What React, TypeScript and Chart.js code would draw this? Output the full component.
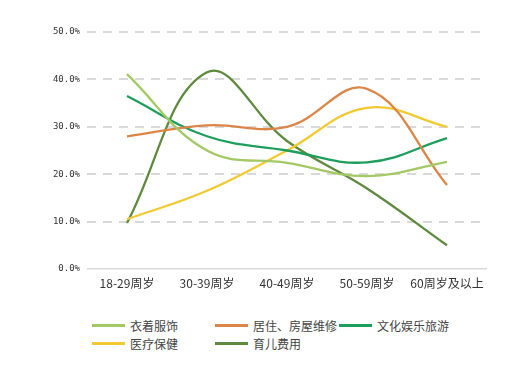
import React, { useEffect, useRef } from "react";
import { Chart, registerables } from "chart.js";

Chart.register(...registerables);

const categories = ["18-29周岁", "30-39周岁", "40-49周岁", "50-59周岁", "60周岁及以上"];
const seriesNames = ["衣着服饰", "居住、房屋维修", "文化娱乐旅游", "医疗保健", "育儿费用"];
const clothing = [41.1, 25.0, 22.4, 19.6, 22.6];
const housing = [28.0, 30.3, 30.0, 38.0, 17.7];
const culture = [36.5, 28.0, 25.0, 22.5, 27.6];
const medical = [10.5, 16.5, 25.0, 34.0, 30.0];
const childcare = [9.7, 41.5, 27.0, 17.0, 5.0];
const colors = ["#a3c964", "#db8647", "#1e9e5c", "#f0c933", "#5d8a3d"];
const yTicks = [0, 10, 20, 30, 40, 50];

export default function App() {
  const ref = useRef<HTMLCanvasElement | null>(null);
  useEffect(() => {
    if (!ref.current) return;
    const seriesData = [clothing, housing, culture, medical, childcare];
    const chart = new Chart(ref.current, {
      type: "line",
      data: {
        labels: categories,
        datasets: seriesNames.map((n, i) => ({
          label: n,
          data: seriesData[i],
          borderColor: colors[i],
          backgroundColor: colors[i],
          borderWidth: 2.3,
          pointRadius: 0,
          tension: 0.4,
          fill: false,
        })),
      },
      options: {
        animation: false,
        responsive: false,
        devicePixelRatio: 1,
        layout: { padding: { top: 32, left: 0, right: 41, bottom: 0 } },
        plugins: { legend: { display: false }, tooltip: { enabled: false } },
        scales: {
          x: {
            offset: true,
            grid: { display: false, drawTicks: false },
            border: { display: false },
            ticks: { color: "#333", font: { size: 12, family: "'Noto Sans CJK SC', sans-serif" }, padding: 7 },
            afterFit: (s: any) => { s.height = 31; },
          },
          y: {
            min: 0,
            max: 50,
            afterBuildTicks: (s: any) => { s.ticks = yTicks.map((v) => ({ value: v })); },
            grid: {
              color: "#d9d9d9",
              lineWidth: (c: any) => (c.tick && c.tick.value === 0 ? 1.5 : 2),
              drawTicks: false,
            },
            border: {
              display: false,
              dash: (c: any) => (c.tick && c.tick.value === 0 ? [] : [9, 7]),
            },
            ticks: {
              color: "#333",
              font: { size: 9, family: "'DejaVu Sans Mono', monospace" },
              padding: 7,
              callback: (v: any) => Number(v).toFixed(1) + "%",
            },
            afterFit: (s: any) => { s.width = 87; },
          },
        },
      },
    });
    return () => chart.destroy();
  }, []);

  const legendPos = [
    { x: 92, y: 325 },
    { x: 215, y: 325 },
    { x: 339, y: 325 },
    { x: 92, y: 343 },
    { x: 215, y: 343 },
  ];

  return (
    <div style={{ position: "fixed", left: 0, top: 0, width: 528, height: 365, background: "#fff" }}>
      <canvas ref={ref} width={528} height={300} style={{ width: 528, height: 300, display: "block" }} />
      {seriesNames.map((n, i) => (
        <div
          key={n}
          style={{
            position: "absolute",
            left: legendPos[i].x,
            top: legendPos[i].y - 9,
            height: 18,
            display: "flex",
            alignItems: "center",
            whiteSpace: "nowrap",
            fontFamily: "'Noto Sans CJK SC', sans-serif",
            fontSize: 12,
            color: "#444",
          }}
        >
          <span style={{ display: "inline-block", width: 33, height: 3, background: colors[i], marginRight: 5 }} />
          <span>{n}</span>
        </div>
      ))}
    </div>
  );
}
